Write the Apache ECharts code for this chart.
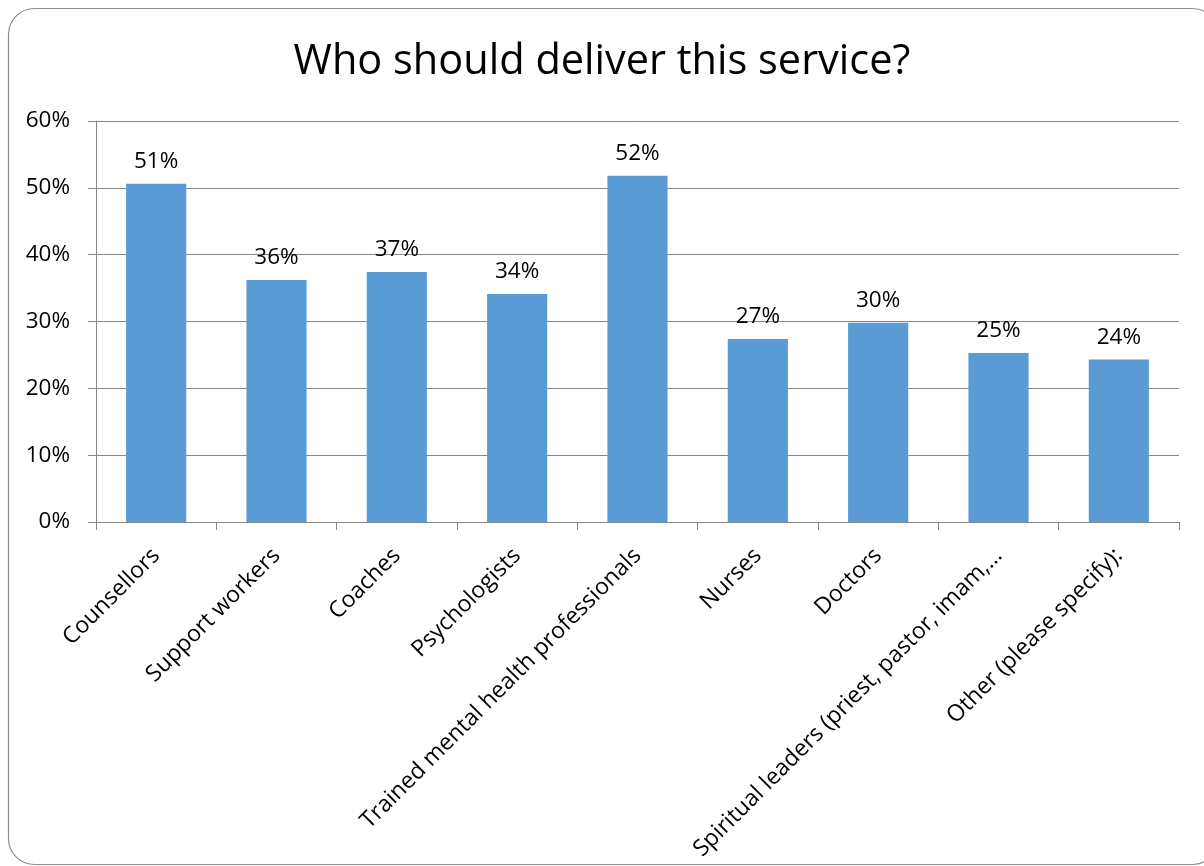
<!DOCTYPE html>
<html>
<head>
<meta charset="utf-8">
<script src="https://cdn.jsdelivr.net/npm/echarts@6/dist/echarts.min.js"></script>
<style>html,body{margin:0;padding:0;background:#fff;}#c{width:1204px;height:866px;}</style>
</head>
<body>
<div id="c"></div>
<script>
var titleText = 'Who should deliver this service?';
var categories = ['Counsellors', 'Support workers', 'Coaches', 'Psychologists', 'Trained mental health professionals', 'Nurses', 'Doctors', 'Spiritual leaders (priest, pastor, imam,\u2026', 'Other (please specify):'];
var values = [50.6, 36.2, 37.4, 34.1, 51.8, 27.4, 29.8, 25.3, 24.3];
var yTicks = [0, 10, 20, 30, 40, 50, 60];

var FONT = 'Open Sans';
var chart = echarts.init(document.getElementById('c'), null, {renderer: 'canvas'});
chart.setOption({
  animation: false,
  backgroundColor: '#fff',
  graphic: [{
    type: 'rect', silent: true, z: -1,
    shape: {x: 8.5, y: 8.5, width: 1210, height: 856, r: 26},
    style: {fill: 'none', stroke: '#8c8c8c', lineWidth: 1.2}
  }],
  title: {
    text: titleText, left: 'center', top: 36,
    textStyle: {fontFamily: FONT, fontSize: 41.5, fontWeight: 'normal', color: '#000'}
  },
  grid: {left: 96, right: 25, top: 121, bottom: 344, containLabel: false},
  xAxis: {
    type: 'category', data: categories,
    axisLine: {lineStyle: {color: '#868686', width: 1}},
    axisTick: {show: true, alignWithLabel: false, length: 8, lineStyle: {color: '#868686'}},
    axisLabel: {rotate: 45, interval: 0, margin: 30, fontFamily: FONT, fontSize: 23, color: '#000'}
  },
  yAxis: {
    type: 'value', min: yTicks[0], max: yTicks[yTicks.length - 1], interval: 10,
    axisLine: {show: true, lineStyle: {color: '#868686'}},
    axisTick: {show: true, length: 8, inside: false, lineStyle: {color: '#868686'}},
    splitLine: {lineStyle: {color: '#868686', width: 1}},
    axisLabel: {margin: 26, fontFamily: FONT, fontSize: 22.5, color: '#000', formatter: function (v) { return v + '%'; }}
  },
  series: [{
    type: 'bar', data: values, barWidth: '50%',
    itemStyle: {color: '#5B9BD5'},
    label: {show: true, position: 'top', distance: 11, fontFamily: FONT, fontSize: 22.5, color: '#000',
      formatter: function (p) { return Math.round(p.value) + '%'; }}
  }]
});
</script>
</body>
</html>
